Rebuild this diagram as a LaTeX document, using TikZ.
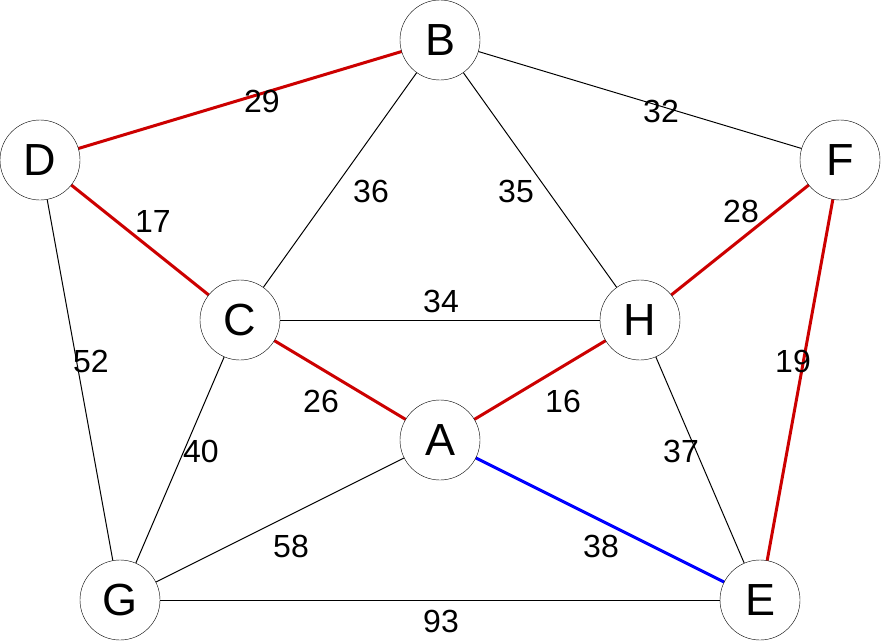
\documentclass[tikz,border=0pt]{standalone}
\usepackage{fontspec}
\setmainfont{Liberation Sans}
\definecolor{treered}{RGB}{204,0,0}
\definecolor{pickblue}{RGB}{0,0,255}
\begin{document}
\begin{tikzpicture}[x=1pt, y=-1pt,
    vertex/.style={circle, draw, thin, fill=white, minimum size=80pt, inner sep=0pt, font=\fontsize{45}{50}\selectfont},
    plainedge/.style={draw=black, line width=1pt},
    treeedge/.style={draw=treered, line width=3pt},
    pickedge/.style={draw=pickblue, line width=3pt},
    weight/.style={inner sep=0pt, font=\fontsize{32}{36}\selectfont}]

        % Fix the size of the picture
        \useasboundingbox (0,0) rectangle (882,642);

        % Place the vertices
        \foreach \name/\x/\y in {B/440/40, D/40/160, F/840/160, C/240/320, H/640/320, A/440/440, G/120/600, E/760/600} {
            \coordinate (P\name) at (\x,\y);
        }

        % Draw the edges first, so the circles cover their ends
        \foreach \from/\to/\kind in {D/B/treeedge, B/F/plainedge, B/C/plainedge, B/H/plainedge, D/C/treeedge, H/F/treeedge, C/H/plainedge, D/G/plainedge, F/E/treeedge, C/A/treeedge, A/H/treeedge, C/G/plainedge, H/E/plainedge, G/A/plainedge, A/E/pickedge, G/E/plainedge} {
            \draw[\kind] (P\from) -- (P\to);
        }

        % Draw the vertices on top
        \foreach \name in {B, D, F, C, H, A, G, E} {
            \node[vertex] (\name) at (P\name) {\name};
        }

        % Add the weights next to the edges
        \foreach \w/\x/\y in {29/262/101, 32/661/111, 36/371/191, 35/516/191, 17/153/221, 28/741/211, 34/441/301, 52/91/361, 19/793/361, 26/321/401, 16/563/401, 40/201/451, 37/681/451, 58/291/546, 38/601/546, 93/441/621} {
            \node[weight] (W\w) at (\x,\y) {\w};
        }

    \end{tikzpicture}
\end{document}
